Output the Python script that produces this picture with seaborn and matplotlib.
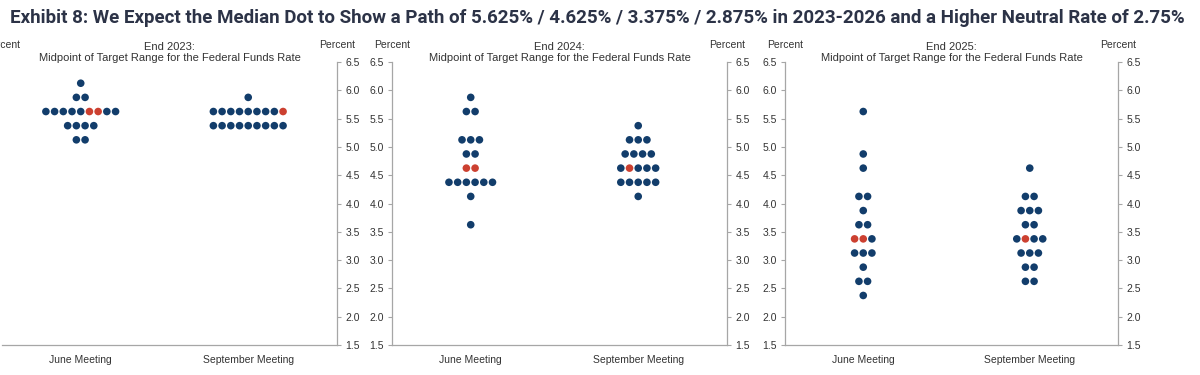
import numpy as np
import pandas as pd
import matplotlib
matplotlib.use('Agg')
import matplotlib.pyplot as plt
import seaborn as sns

title = ('Exhibit 8: We Expect the Median Dot to Show a Path of 5.625% / 4.625% / '
         '3.375% / 2.875% in 2023-2026 and a Higher Neutral Rate of 2.75%')
meetings = ['June Meeting', 'September Meeting']
panel_titles = ['End 2023:', 'End 2024:', 'End 2025:']
subtitle = 'Midpoint of Target Range for the Federal Funds Rate'
yticks = [1.5, 2.0, 2.5, 3.0, 3.5, 4.0, 4.5, 5.0, 5.5, 6.0, 6.5]

# rate levels and number of dots at each level
jun_2023_rates = [6.125, 5.875, 5.625, 5.375, 5.125]
jun_2023_counts = [1, 2, 9, 4, 2]
sep_2023_rates = [5.875, 5.625, 5.375]
sep_2023_counts = [1, 9, 9]

jun_2024_rates = [5.875, 5.625, 5.125, 4.875, 4.625, 4.375, 4.125, 3.625]
jun_2024_counts = [1, 2, 3, 2, 2, 6, 1, 1]
sep_2024_rates = [5.375, 5.125, 4.875, 4.625, 4.375, 4.125]
sep_2024_counts = [1, 3, 4, 5, 5, 1]

jun_2025_rates = [5.625, 4.875, 4.625, 4.125, 3.875, 3.625, 3.375, 3.125, 2.875, 2.625, 2.375]
jun_2025_counts = [1, 1, 1, 2, 1, 2, 3, 3, 1, 2, 1]
sep_2025_rates = [4.625, 4.125, 3.875, 3.625, 3.375, 3.125, 2.875, 2.625]
sep_2025_counts = [1, 2, 3, 2, 4, 3, 2, 2]

# median dot: the row and which dots in that row are red
jun_2023_median = (5.625, [5, 6])
sep_2023_median = (5.625, [8])
jun_2024_median = (4.625, [0, 1])
sep_2024_median = (4.625, [1])
jun_2025_median = (3.375, [0, 1])
sep_2025_median = (3.375, [1])

navy = '#123d6b'
red = '#cc4030'
grey = '#a6a6a6'
txt = '#333333'
dx = 0.052


def build(meeting, rates, counts, median):
    rows = []
    for r, n in zip(rates, counts):
        for j in range(n):
            rows.append({'x': meeting + (j - (n - 1) / 2) * dx, 'y': r,
                         'median': r == median[0] and j in median[1]})
    return rows


panels = [
    build(0, jun_2023_rates, jun_2023_counts, jun_2023_median) +
    build(1, sep_2023_rates, sep_2023_counts, sep_2023_median),
    build(0, jun_2024_rates, jun_2024_counts, jun_2024_median) +
    build(1, sep_2024_rates, sep_2024_counts, sep_2024_median),
    build(0, jun_2025_rates, jun_2025_counts, jun_2025_median) +
    build(1, sep_2025_rates, sep_2025_counts, sep_2025_median),
]

sns.set_style('white')
plt.rcParams['font.family'] = ['Liberation Sans', 'DejaVu Sans']

W, H = 1200, 375
fig = plt.figure(figsize=(12, 3.75), dpi=100)
bounds = [(2, 337), (392, 727), (785, 1118)]
y_top, y_bot = 62, 345

for i, (x0, x1) in enumerate(bounds):
    ax = fig.add_axes([x0 / W, 1 - y_bot / H, (x1 - x0) / W, (y_bot - y_top) / H])
    df = pd.DataFrame(panels[i])
    sns.scatterplot(data=df, x='x', y='y', hue='median',
                    palette={False: navy, True: red}, s=30,
                    edgecolor='none', legend=False, ax=ax, zorder=3)
    ax.set_xlim(-0.47, 1.53)
    ax.set_ylim(1.5, 6.5)
    ax.set_xlabel('')
    ax.set_ylabel('')
    ax.set_yticks(yticks)
    ax.set_yticklabels([f'{v:.1f}' for v in yticks])
    ax.set_xticks([0, 1])
    ax.set_xticklabels(meetings)
    ax.set_xticks([0.53], minor=True)
    ax.tick_params(axis='x', which='major', length=0, pad=7, labelsize=7.5, labelcolor=txt)
    ax.tick_params(axis='x', which='minor', length=3, color=grey, width=0.8)
    ax.tick_params(axis='y', left=True, right=True, labelleft=True, labelright=True,
                   length=3, width=0.8, color=grey, labelsize=7.5, labelcolor=txt, pad=3)
    ax.spines['top'].set_visible(False)
    for s in ['left', 'right', 'bottom']:
        ax.spines[s].set_color(grey)
        ax.spines[s].set_linewidth(0.9)
    if i == 0:
        ax.spines['left'].set_visible(False)
        ax.tick_params(axis='y', left=False, labelleft=False)
    ax.grid(False)

    cx = (x0 + x1) / 2 / W
    fig.text(cx, 1 - 47 / H, panel_titles[i], ha='center', va='center', fontsize=8, color=txt)
    fig.text(cx, 1 - 58 / H, subtitle, ha='center', va='center', fontsize=8, color=txt)
    fig.text((x0 if i == 0 else x0) / W, 1 - 45 / H, 'Percent', ha='center', va='center',
             fontsize=7.5, color=txt)
    fig.text(x1 / W, 1 - 45 / H, 'Percent', ha='center', va='center', fontsize=7.5, color=txt)

fig.text(10 / W, 1 - 18 / H, title, ha='left', va='center', fontsize=13.5,
         fontweight='bold', family=['Roboto', 'DejaVu Sans'], color='#2c3347')

fig.savefig('out.png', dpi=100)
